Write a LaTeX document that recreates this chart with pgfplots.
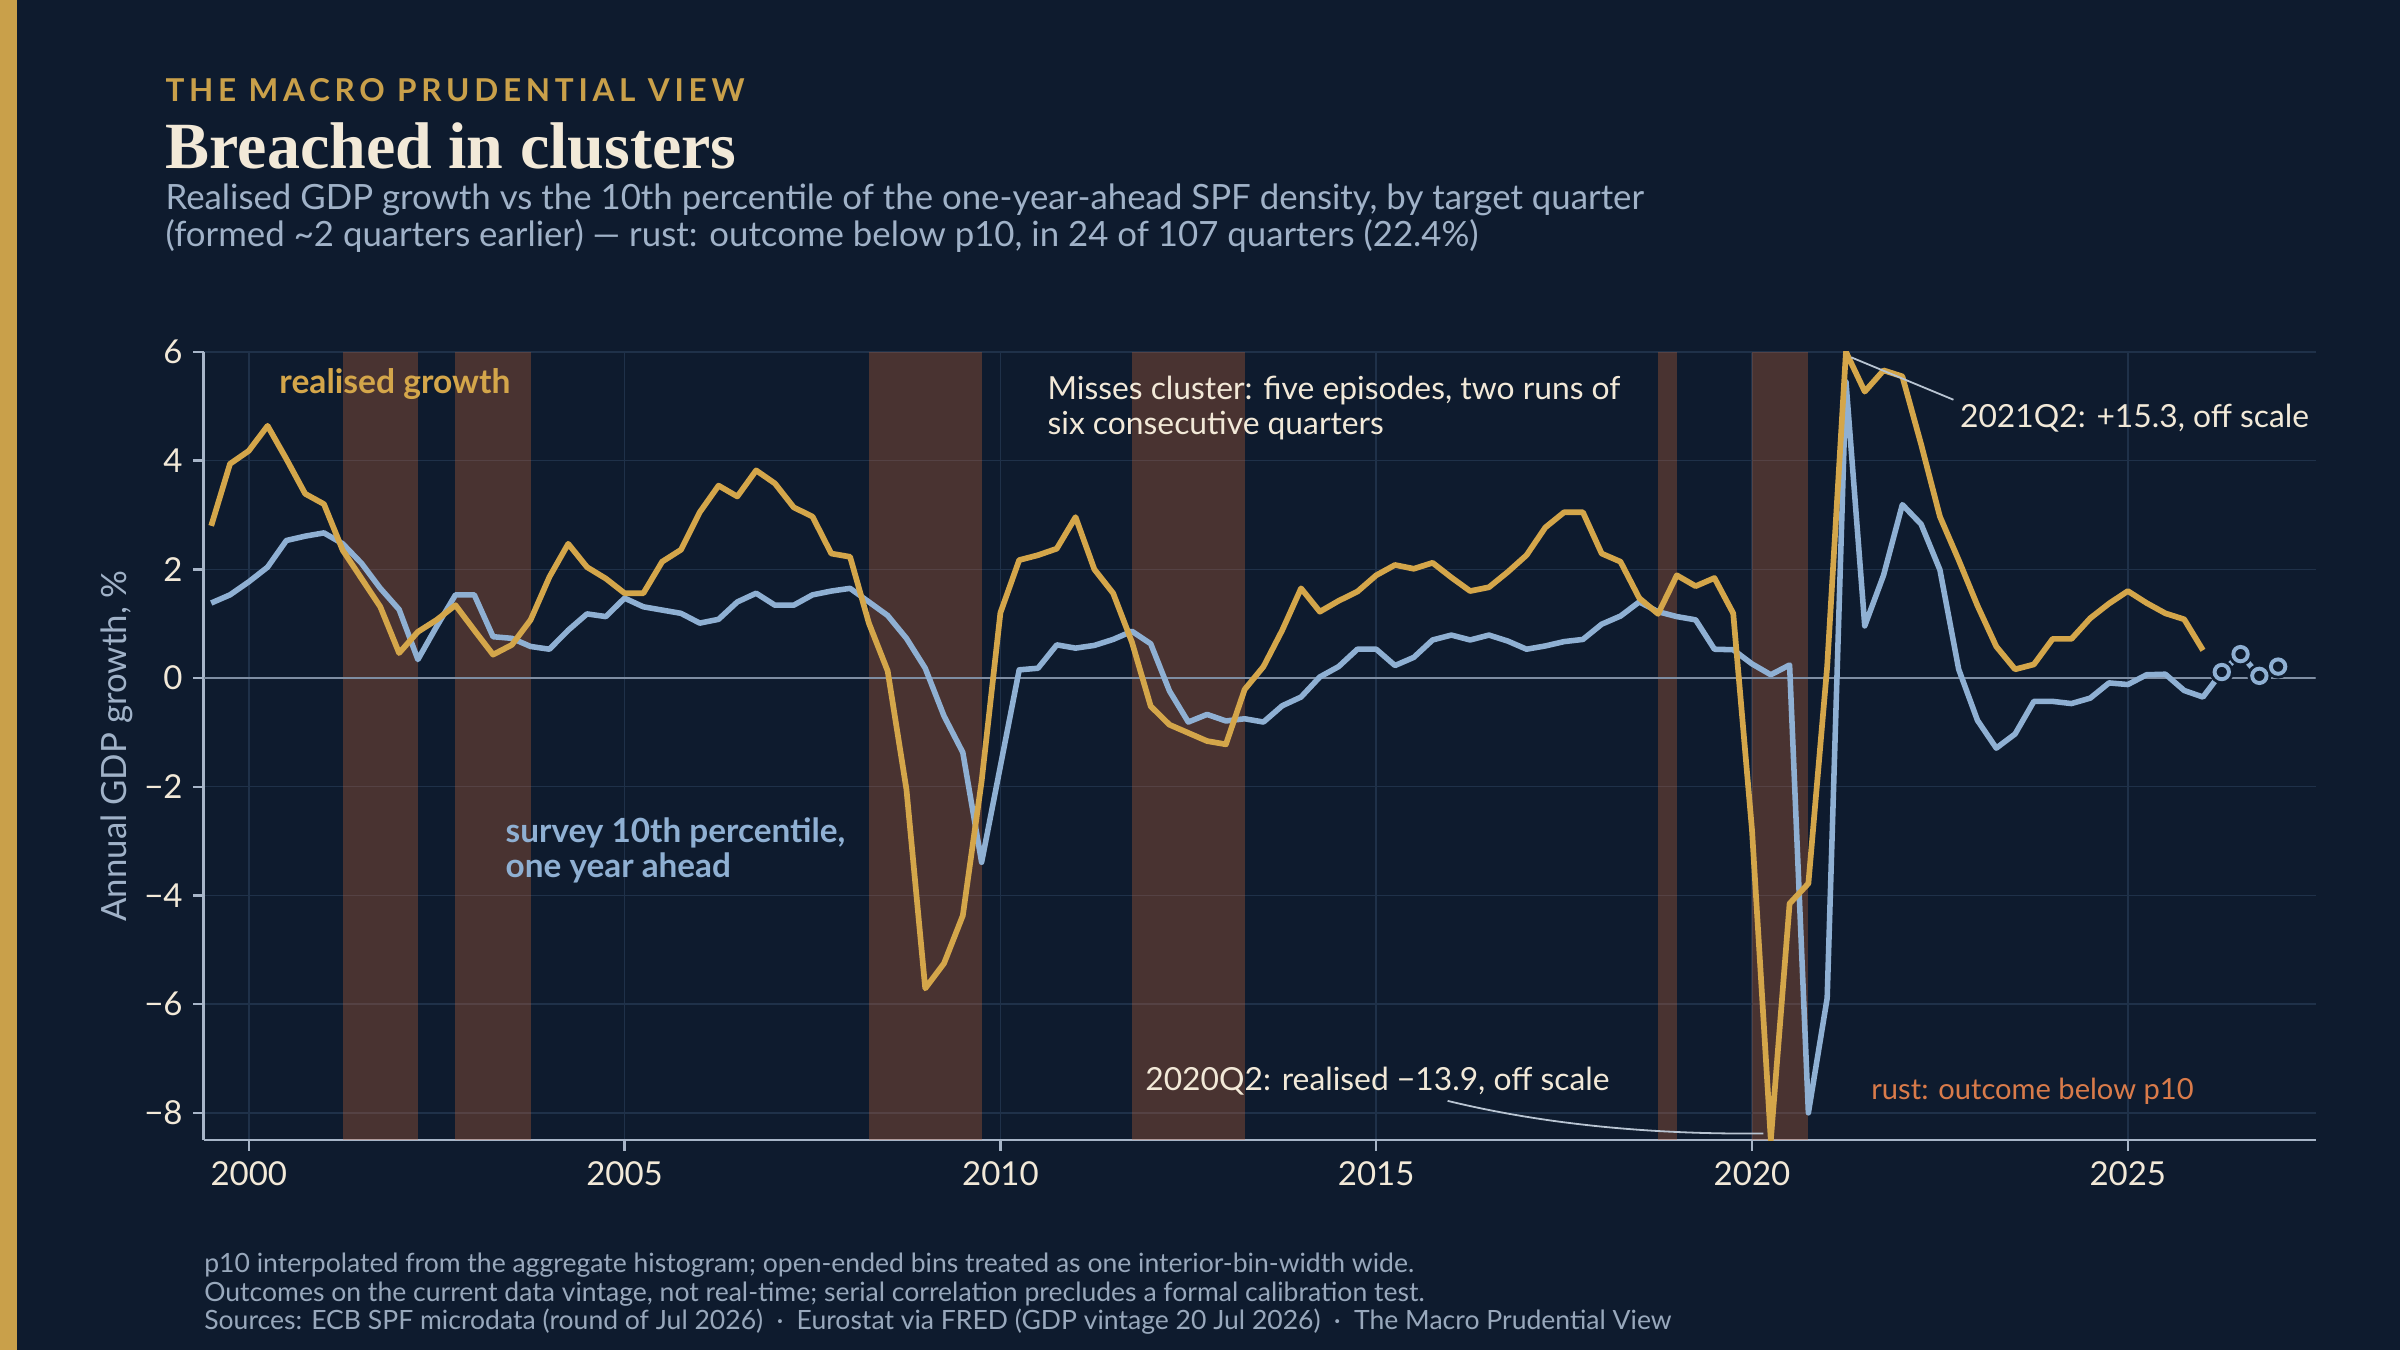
\documentclass[border=0pt]{standalone}
\usepackage{fontspec}
\setmainfont{Lato}
\newfontfamily\titlefont{Liberation Serif}
\usepackage{pgfplots}
\pgfplotsset{compat=1.18}
\definecolor{bg}{HTML}{0E1B2E}
\definecolor{goldbar}{HTML}{C9A04A}
\definecolor{gold}{HTML}{D4A64A}
\definecolor{lblue}{HTML}{8FB0D3}
\definecolor{rust}{HTML}{C8663A}
\definecolor{rusttext}{HTML}{D97B4A}
\definecolor{cream}{HTML}{F2E9D8}
\definecolor{subc}{HTML}{A0B2C8}
\definecolor{footc}{HTML}{98A8BC}
\definecolor{gridc}{HTML}{1F3149}
\definecolor{axisc}{HTML}{A7B5C8}
\definecolor{zeroc}{HTML}{7F8EA3}
\definecolor{leadc}{HTML}{B8C4D2}

\pgfplotstableread{
x y
1999.5 2.80
1999.75 3.94
2000.0 4.18
2000.25 4.64
2000.5 4.03
2000.75 3.39
2001.0 3.20
2001.25 2.35
2001.5 1.83
2001.75 1.31
2002.0 0.46
2002.25 0.85
2002.5 1.07
2002.75 1.34
2003.0 0.88
2003.25 0.43
2003.5 0.61
2003.75 1.07
2004.0 1.86
2004.25 2.47
2004.5 2.04
2004.75 1.83
2005.0 1.56
2005.25 1.56
2005.5 2.14
2005.75 2.36
2006.0 3.05
2006.25 3.54
2006.5 3.34
2006.75 3.82
2007.0 3.58
2007.25 3.14
2007.5 2.97
2007.75 2.29
2008.0 2.23
2008.25 1.01
2008.5 0.13
2008.75 -2.05
2009.0 -5.71
2009.25 -5.25
2009.5 -4.37
2009.75 -1.90
2010.0 1.20
2010.25 2.17
2010.5 2.26
2010.75 2.38
2011.0 2.96
2011.25 2.00
2011.5 1.56
2011.75 0.66
2012.0 -0.52
2012.25 -0.86
2012.5 -1.01
2012.75 -1.16
2013.0 -1.22
2013.25 -0.21
2013.5 0.21
2013.75 0.88
2014.0 1.65
2014.25 1.22
2014.5 1.42
2014.75 1.59
2015.0 1.89
2015.25 2.08
2015.5 2.01
2015.75 2.12
2016.0 1.85
2016.25 1.60
2016.5 1.67
2016.75 1.95
2017.0 2.26
2017.25 2.77
2017.5 3.05
2017.75 3.05
2018.0 2.29
2018.25 2.14
2018.5 1.47
2018.75 1.18
2019.0 1.89
2019.25 1.69
2019.5 1.84
2019.75 1.19
2020.0 -2.80
2020.25 -8.50
2020.5 -4.15
2020.75 -3.78
2021.0 0.21
2021.25 6.00
2021.5 5.27
2021.75 5.66
2022.0 5.55
2022.25 4.30
2022.5 2.97
2022.75 2.17
2023.0 1.33
2023.25 0.58
2023.5 0.16
2023.75 0.25
2024.0 0.72
2024.25 0.72
2024.5 1.10
2024.75 1.37
2025.0 1.60
2025.25 1.38
2025.5 1.19
2025.75 1.08
2026.0 0.51
}\realised

\pgfplotstableread{
x y
1999.5 1.38
1999.75 1.53
2000.0 1.77
2000.25 2.04
2000.5 2.53
2000.75 2.61
2001.0 2.67
2001.25 2.47
2001.5 2.11
2001.75 1.65
2002.0 1.26
2002.25 0.34
2002.5 0.95
2002.75 1.53
2003.0 1.53
2003.25 0.76
2003.5 0.73
2003.75 0.58
2004.0 0.53
2004.25 0.88
2004.5 1.18
2004.75 1.13
2005.0 1.47
2005.25 1.31
2005.5 1.25
2005.75 1.19
2006.0 1.01
2006.25 1.08
2006.5 1.40
2006.75 1.56
2007.0 1.34
2007.25 1.34
2007.5 1.53
2007.75 1.60
2008.0 1.65
2008.25 1.40
2008.5 1.15
2008.75 0.73
2009.0 0.18
2009.25 -0.70
2009.5 -1.37
2009.75 -3.39
2010.0 -1.62
2010.25 0.15
2010.5 0.18
2010.75 0.61
2011.0 0.55
2011.25 0.60
2011.5 0.71
2011.75 0.86
2012.0 0.63
2012.25 -0.24
2012.5 -0.81
2012.75 -0.67
2013.0 -0.79
2013.25 -0.75
2013.5 -0.81
2013.75 -0.51
2014.0 -0.35
2014.25 0.02
2014.5 0.21
2014.75 0.53
2015.0 0.53
2015.25 0.23
2015.5 0.38
2015.75 0.70
2016.0 0.79
2016.25 0.70
2016.5 0.79
2016.75 0.68
2017.0 0.53
2017.25 0.59
2017.5 0.67
2017.75 0.71
2018.0 0.99
2018.25 1.14
2018.5 1.40
2018.75 1.22
2019.0 1.13
2019.25 1.07
2019.5 0.53
2019.75 0.52
2020.0 0.26
2020.25 0.06
2020.5 0.24
2020.75 -8.00
2021.0 -5.89
2021.25 5.45
2021.5 0.96
2021.75 1.89
2022.0 3.19
2022.25 2.83
2022.5 1.99
2022.75 0.16
2023.0 -0.78
2023.25 -1.29
2023.5 -1.03
2023.75 -0.43
2024.0 -0.43
2024.25 -0.47
2024.5 -0.37
2024.75 -0.09
2025.0 -0.12
2025.25 0.06
2025.5 0.07
2025.75 -0.23
2026.0 -0.35
2026.25 0.11
2026.5 0.44
2026.75 0.04
2027.0 0.21
}\survey

\pgfplotstableread{
x y
2026.25 0.11
2026.5 0.44
2026.75 0.04
2027.0 0.21
}\future

\begin{document}
\begin{tikzpicture}
\useasboundingbox (0,0) rectangle (800pt,450pt);
\fill[bg] (0,0) rectangle (800pt,450pt);
\fill[goldbar] (0,0) rectangle (5.7pt,450pt);

\node[anchor=base west, inner sep=0, text=goldbar, font=\fontsize{10.5}{12}\selectfont\bfseries\addfontfeature{LetterSpace=15}] at (55pt,416.3pt) {THE MACRO PRUDENTIAL VIEW};
\node[anchor=base west, inner sep=0, text=cream, font=\titlefont\bfseries\fontsize{22}{24}\selectfont] at (55pt,393.9pt) {Breached in clusters};
\node[anchor=base west, inner sep=0, text=subc, font=\fontsize{11.6}{13}\selectfont] at (55pt,380.1pt) {Realised GDP growth vs the 10th percentile of the one-year-ahead SPF density, by target quarter};
\node[anchor=base west, inner sep=0, text=subc, font=\fontsize{11.6}{13}\selectfont] at (55pt,367.9pt) {(formed \textasciitilde2 quarters earlier) — rust: outcome below p10, in 24 of 107 quarters (22.4\%)};

\node[anchor=base west, inner sep=0, text=footc, font=\fontsize{8.85}{10}\selectfont] at (67.9pt,26pt) {p10 interpolated from the aggregate histogram; open-ended bins treated as one interior-bin-width wide.};
\node[anchor=base west, inner sep=0, text=footc, font=\fontsize{8.85}{10}\selectfont] at (67.9pt,16.3pt) {Outcomes on the current data vintage, not real-time; serial correlation precludes a formal calibration test.};
\node[anchor=base west, inner sep=0, text=footc, font=\fontsize{8.85}{10}\selectfont] at (67.9pt,6.7pt) {Sources: ECB SPF microdata (round of Jul 2026)\enspace·\enspace Eurostat via FRED (GDP vintage 20 Jul 2026)\enspace·\enspace The Macro Prudential View};

\begin{axis}[
  at={(67.9pt,70pt)}, anchor=south west,
  scale only axis, width=704pt, height=262.7pt,
  xmin=1999.4, xmax=2027.5, ymin=-8.5, ymax=6,
  axis x line*=bottom, axis y line*=left,
  xtick={2000,2005,2010,2015,2020,2025},
  xticklabels={2000,2005,2010,2015,2020,2025},
  ytick={-8,-6,-4,-2,0,2,4,6},
  yticklabels={−8,−6,−4,−2,0,2,4,6},
  grid=major, major grid style={color=gridc, line width=0.5pt},
  axis line style={color=axisc, line width=0.8pt},
  tick style={color=axisc, line width=0.8pt},
  major tick length=3.5pt, tick align=outside,
  ticklabel style={font=\fontsize{11}{13}\selectfont, text=cream},
  ylabel={Annual GDP growth, \%},
  ylabel style={at={(axis description cs:-0.041,0.5)}, anchor=center, font=\fontsize{11.6}{14}\selectfont, text=subc},
  clip mode=individual,
]
% miss bands
\addplot[draw=none, fill=rust, fill opacity=0.32] coordinates {(2001.25,-8.5) (2001.25,6) (2002.25,6) (2002.25,-8.5)};
\addplot[draw=none, fill=rust, fill opacity=0.32] coordinates {(2002.75,-8.5) (2002.75,6) (2003.75,6) (2003.75,-8.5)};
\addplot[draw=none, fill=rust, fill opacity=0.32] coordinates {(2008.25,-8.5) (2008.25,6) (2009.75,6) (2009.75,-8.5)};
\addplot[draw=none, fill=rust, fill opacity=0.32] coordinates {(2011.75,-8.5) (2011.75,6) (2013.25,6) (2013.25,-8.5)};
\addplot[draw=none, fill=rust, fill opacity=0.32] coordinates {(2018.75,-8.5) (2018.75,6) (2019.0,6) (2019.0,-8.5)};
\addplot[draw=none, fill=rust, fill opacity=0.32] coordinates {(2020.0,-8.5) (2020.0,6) (2020.75,6) (2020.75,-8.5)};
% zero line
\addplot[color=zeroc, line width=0.6pt] coordinates {(1999.4,0) (2027.5,0)};
% series
\addplot[color=lblue, line width=1.85pt, line join=round] table[x=x,y=y] {\survey};
\addplot[color=gold, line width=1.9pt, line join=round] table[x=x,y=y] {\realised};
\addplot[only marks, mark=*, mark size=3.8pt, mark options={draw=bg, fill=bg}] table[x=x,y=y] {\future};
\addplot[only marks, mark=*, mark size=2.4pt, mark options={draw=lblue, fill=bg, line width=1.3pt}] table[x=x,y=y] {\future};
% annotations
\node[anchor=west, inner sep=0, text=gold, font=\fontsize{11.2}{13}\selectfont\bfseries] at (axis cs:2000.4,5.41) {realised growth};
\node[anchor=west, inner sep=0, text=lblue, align=left, font=\fontsize{11.1}{11.8}\selectfont\bfseries] at (axis cs:2003.41,-3.17) {survey 10th percentile,\\one year ahead};
\node[anchor=west, inner sep=0, text=cream, align=left, font=\fontsize{10.6}{11.8}\selectfont] at (axis cs:2010.62,4.97) {Misses cluster: five episodes, two runs of\\six consecutive quarters};
\node[anchor=west, inner sep=0, text=cream, font=\fontsize{10.6}{13}\selectfont] at (axis cs:2022.76,4.79) {2021Q2: +15.3, off scale};
\node[anchor=west, inner sep=0, text=cream, font=\fontsize{10.6}{13}\selectfont] at (axis cs:2011.92,-7.41) {2020Q2: realised −13.9, off scale};
\node[anchor=west, inner sep=0, text=rusttext, font=\fontsize{9.7}{13}\selectfont] at (axis cs:2021.58,-7.6) {rust: outcome below p10};
\draw[leadc, line width=0.6pt] (axis cs:2021.32,5.9) -- (axis cs:2022.68,5.12);
\draw[leadc, line width=0.6pt] (axis cs:2015.95,-7.78) .. controls (axis cs:2017.2,-8.2) and (axis cs:2018.6,-8.4) .. (axis cs:2020.15,-8.38);
\end{axis}
\end{tikzpicture}
\end{document}
